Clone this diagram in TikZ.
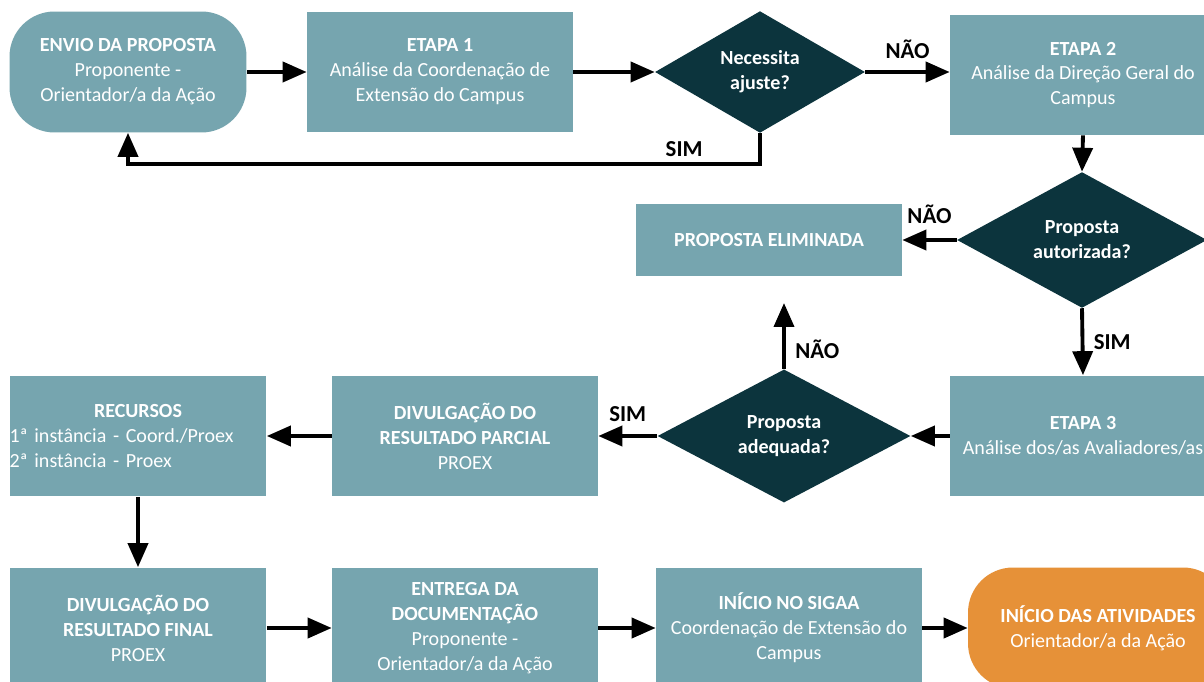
\documentclass[tikz,border=0pt]{standalone}
\usepackage{fontspec}
\setmainfont{Carlito}
\usetikzlibrary{shapes.geometric,arrows.meta}

\definecolor{caixa}{HTML}{76A5AF}
\definecolor{losango}{HTML}{0C343D}
\definecolor{laranja}{HTML}{E69138}

\begin{document}
\begin{tikzpicture}[x=0.02cm,y=-0.02cm,
	etapa/.style={rectangle,fill=caixa,text=white,minimum width=5.32cm,minimum height=2.42cm,inner sep=0pt,align=center,font=\fontsize{11.4}{14.2}\selectfont},
	inicio/.style={etapa,rounded corners=0.9cm},
	decisao/.style={diamond,fill=losango,text=white,inner sep=0pt,align=center,font=\bfseries\fontsize{11.4}{14.2}\selectfont},
	seta/.style={line width=2.2pt,-{Triangle[length=0.48cm,width=0.4cm]}},
	rotulo/.style={font=\bfseries\fontsize{13}{15}\selectfont}]

	\clip (0,0) rectangle (1204,682);
	\fill[white] (0,0) rectangle (1204,682);

	% primeira linha
	\node[inicio,minimum width=4.74cm] (envio) at (128,72) {\textbf{ENVIO DA PROPOSTA}\\Proponente -\\Orientador/a da Ação};
	\node[etapa] (etapa1) at (440,72) {\textbf{ETAPA 1}\\Análise da Coordenação de\\Extensão do Campus};
	\node[decisao,minimum width=4.2cm,minimum height=2.4cm] (ajuste) at (760,72) {Necessita\\ajuste?};
	\node[etapa,minimum height=2.4cm] (etapa2) at (1083,75) {\textbf{ETAPA 2}\\Análise da Direção Geral do\\Campus};

	% segunda linha
	\node[decisao,minimum width=5cm,minimum height=2.48cm] (autorizada) at (1082,240) {Proposta\\autorizada?};
	\node[etapa,minimum height=1.44cm] (eliminada) at (769,240) {\textbf{PROPOSTA ELIMINADA}};

	% terceira linha
	\node[etapa] (etapa3) at (1083,436) {\textbf{ETAPA 3}\\Análise dos/as Avaliadores/as};
	\node[decisao,minimum width=5.06cm,minimum height=2.42cm] (adequada) at (784,436) {Proposta\\adequada?};
	\node[etapa] (parcial) at (465,436) {\textbf{DIVULGAÇÃO DO}\\\textbf{RESULTADO PARCIAL}\\PROEX};
	\node[etapa,minimum width=5.14cm,text width=5.14cm,align=left] (recursos) at (138,436) {\makebox[\linewidth]{\textbf{RECURSOS}}\\1ª instância - Coord./Proex\\2ª instância - Proex};

	% ultima linha
	\node[etapa,minimum width=5.14cm] (final) at (138,628) {\textbf{DIVULGAÇÃO DO}\\\textbf{RESULTADO FINAL}\\PROEX};
	\node[etapa] (entrega) at (465,628) {\textbf{ENTREGA DA}\\\textbf{DOCUMENTAÇÃO}\\Proponente -\\Orientador/a da Ação};
	\node[etapa] (sigaa) at (789,628) {\textbf{INÍCIO NO SIGAA}\\Coordenação de Extensão do\\Campus};
	\node[inicio,fill=laranja,minimum width=5.2cm] (atividades) at (1098,628) {\textbf{INÍCIO DAS ATIVIDADES}\\Orientador/a da Ação};

	\coordinate (naoadequada) at (784,303);

	\draw[seta] (envio.east) -- (etapa1.west);
	\draw[seta] (etapa1.east) -- (ajuste.west);
	\draw[seta] (ajuste.east) -- node[rotulo,above=3pt]{NÃO} (ajuste.east -| etapa2.west);
	\draw[seta] (ajuste.south) -- ++(0,31) -| node[rotulo,above,pos=0.06]{SIM} (envio.south);
	\draw[seta] (etapa2.south) -- (autorizada.north);
	\draw[seta] (autorizada.west) -- node[rotulo,above=5pt]{NÃO} (eliminada.east);
	\draw[seta] (autorizada.south) -- node[rotulo,right,xshift=2pt]{SIM} (etapa3.north);
	\draw[seta] (etapa3.west) -- (adequada.east);
	\draw[seta] (adequada.north) -- node[rotulo,right,pos=0.3,xshift=2pt]{NÃO} (naoadequada);
	\draw[seta] (adequada.west) -- node[rotulo,above=4pt]{SIM} (parcial.east);
	\draw[seta] (parcial.west) -- (recursos.east);
	\draw[seta] (recursos.south) -- (final.north);
	\draw[seta] (final.east) -- (entrega.west);
	\draw[seta] (entrega.east) -- (sigaa.west);
	\draw[seta] (sigaa.east) -- (atividades.west);

\end{tikzpicture}
\end{document}
